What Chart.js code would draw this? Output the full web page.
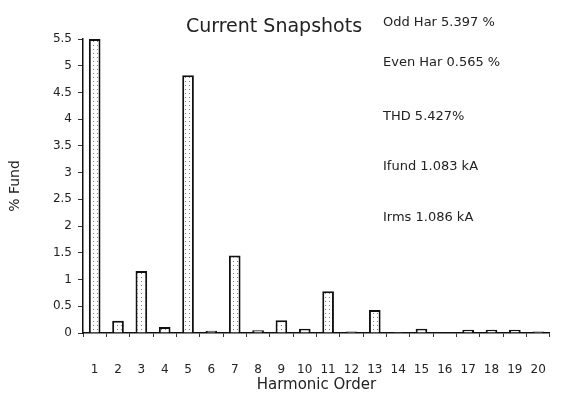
<!DOCTYPE html>
<html>
<head>
<meta charset="utf-8">
<script src="https://cdn.jsdelivr.net/npm/chart.js@4/dist/chart.umd.min.js"></script>
<style>
html,body{margin:0;padding:0;background:#fff;}
canvas{display:block;}
</style>
</head>
<body>
<canvas id="c" width="572" height="394"></canvas>
<script>
const categories = ['1','2','3','4','5','6','7','8','9','10','11','12','13','14','15','16','17','18','19','20'];
const percentFund = [5.5,0.23,1.16,0.11,4.82,0.04,1.45,0.05,0.24,0.08,0.78,0.03,0.43,0.02,0.08,0.00,0.06,0.06,0.06,0.03];
const yTicks = [0,0.5,1,1.5,2,2.5,3,3.5,4,4.5,5,5.5];
const chartTitle = 'Current Snapshots';
const infoLines = ['Odd Har 5.397 %','Even Har 0.565 %','THD 5.427%','Ifund 1.083 kA','Irms 1.086 kA'];
const xTitle = 'Harmonic Order';
const yTitle = '% Fund';

// bar fill pattern (white with faint dots)
const pc = document.createElement('canvas');
pc.width = 4; pc.height = 4;
const pctx = pc.getContext('2d');
pctx.fillStyle = '#fff'; pctx.fillRect(0,0,4,4);
pctx.fillStyle = '#777'; pctx.fillRect(1,1,1,1);
const ctx0 = document.getElementById('c').getContext('2d');
const pattern = ctx0.createPattern(pc,'repeat');

const FONT = 'DejaVu Sans';
const INK = '#222';

const textPlugin = {
  id: 'texts',
  afterDraw(chart){
    const ctx = chart.ctx;
    ctx.save();
    ctx.fillStyle = INK;
    ctx.textBaseline = 'middle';
    ctx.textAlign = 'center';
    ctx.font = '19px "' + FONT + '"';
    ctx.fillText(chartTitle, 274, 27);
    ctx.textAlign = 'left';
    ctx.font = '13px "' + FONT + '"';
    const ys = [23, 63, 117, 167, 218];
    infoLines.forEach((t,i)=>ctx.fillText(t, 383, ys[i]));
    ctx.restore();
  }
};

new Chart(ctx0, {
  type: 'bar',
  data: {
    labels: categories,
    datasets: [{
      data: percentFund,
      backgroundColor: pattern,
      borderColor: '#111',
      borderWidth: 2,
      borderSkipped: 'bottom',
      barPercentage: 0.5,
      categoryPercentage: 1.0
    }]
  },
  options: {
    responsive: false,
    animation: false,
    layout: { padding: { top: 39, right: 7, left: 0, bottom: 0 } },
    plugins: { legend: { display: false }, tooltip: { enabled: false }, title: { display: false } },
    scales: {
      x: {
        afterFit(s){ s.height = 61; },
        grid: { display: true, drawOnChartArea: false, drawTicks: true, tickLength: 4, color: '#333', offset: true },
        border: { display: true, color: '#111', width: 1.5 },
        ticks: { color: INK, font: { family: FONT, size: 12 }, padding: 26, maxRotation: 0, autoSkip: false },
        title: { display: true, text: xTitle, color: INK, font: { family: FONT, size: 15 }, padding: { top: 0, bottom: 0 } }
      },
      y: {
        min: 0, max: 5.5,
        afterFit(s){ s.width = 83; },
        afterBuildTicks(s){ s.ticks = yTicks.map(v=>({value:v})); },
        grid: { display: true, drawOnChartArea: false, drawTicks: true, tickLength: 5, color: '#333' },
        border: { display: true, color: '#111', width: 1.5 },
        ticks: { color: INK, font: { family: FONT, size: 12 }, padding: 6, callback: v => String(v) },
        title: { display: true, text: yTitle, color: INK, font: { family: FONT, size: 14 }, padding: { top: 7, bottom: 0 } }
      }
    }
  },
  plugins: [textPlugin]
});
</script>
</body>
</html>
